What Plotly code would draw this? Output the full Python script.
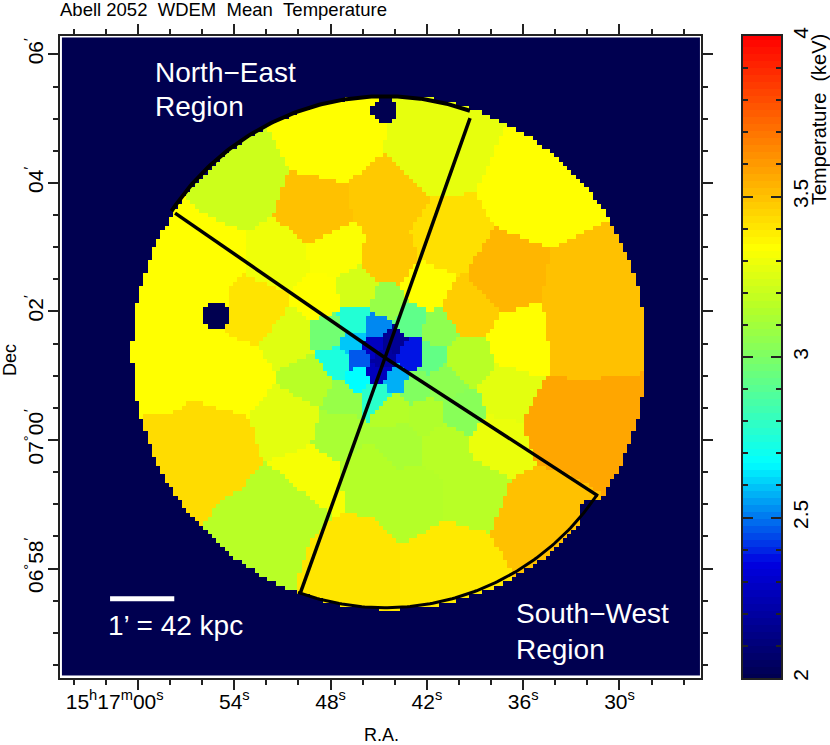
"""Abell 2052 WDEM mean temperature map with the two sector regions."""

import numpy as np
import plotly.graph_objects as go

# spatial bins: R.A. seconds past 15h16m, Dec arcmin from 07d00m, mean kT in keV
bin_ra = [47.73, 41.50, 53.83, 58.01, 58.32, 48.79, 44.61, 40.87, 51.15, 47.73,
          48.66, 52.40, 50.34, 46.36, 44.49, 42.12, 39.63, 37.32, 35.26, 32.15,
          36.20, 32.15, 37.13, 37.76, 39.63, 41.43, 41.81, 43.05, 40.87, 39.81,
          42.12, 42.74, 43.99, 43.68, 40.87, 39.31, 42.74, 35.26, 46.79, 40.56,
          52.09, 55.20, 50.40, 49.16, 45.55, 47.41, 47.10, 48.97, 48.04, 46.48,
          45.11, 46.60, 45.30, 44.11, 42.93, 44.80, 45.05, 46.29, 47.60, 46.17,
          43.93, 45.23,
          44.42, 53.96, 56.45, 55.51, 57.38, 50.53, 34.02, 32.77]
bin_dec = [4.67, 4.51, 3.89, 3.04, 1.25, 3.47, 3.66, 3.07, 2.80, 2.93,
           2.18, 2.02, 1.63, 2.30, 2.10, 2.33, 2.02, 2.52, 3.81, 2.26,
           1.51, 0.23, 0.70, 0.00, 1.21, 1.71, 1.28, 1.84, 0.90, 0.44,
           0.39, 0.81, 0.47, 0.00, -0.08, -0.78, -0.86, -1.17, -1.87, -1.87,
           -1.48, -0.08, 0.31, -0.58, -0.50, 0.12, 0.67, 0.93, 1.67, 1.84,
           1.74, 1.51, 1.45, 1.56, 1.32, 1.25, 1.03, 1.28, 1.21, 0.93,
           0.93, 0.73,
           2.77, 1.01, 2.18, 2.88, -0.39, -1.00, 0.31, 1.63]
bin_kev = [3.34, 3.28, 3.21, 3.34, 3.34, 3.50, 3.48, 3.42, 3.30, 3.33,
           3.34, 3.41, 3.26, 3.23, 3.07, 3.34, 3.47, 3.53, 3.34, 3.50,
           3.34, 3.57, 3.27, 3.29, 3.16, 3.05, 2.93, 2.92, 3.05, 3.03,
           3.14, 3.01, 3.15, 3.12, 3.16, 3.16, 3.15, 3.50, 3.405, 3.395,
           3.16, 3.43, 3.27, 3.32, 3.15, 3.12, 3.07, 3.16, 2.97, 2.76,
           2.52, 2.60, 2.28, 2.17, 2.38, 2.20, 2.27, 2.46, 2.74, 2.67,
           2.57, 2.78,
           3.48, 3.34, 3.34, 3.34, 3.43, 3.16, 3.57, 3.50]

# excluded point sources
hole_ra = [44.61, 55.14, 31.84]
hole_dec = [5.14, 1.93, -1.12]
hole_radius = [0.20, 0.23, 0.18]

# extent of the extraction disk
disk_ra, disk_dec, disk_radius = 44.34, 1.36, 4.0

# sector lines run from the centre out to these points
center_ra, center_dec = 44.61, 1.28
spoke_ra = [39.31, 57.69, 49.91, 31.34]
spoke_dec = [5.01, 3.53, -2.40, -0.87]

# region arcs, angles in degrees counter-clockwise from west
arc_ra, arc_dec, arc_radius = 44.61, 1.37, 3.98
arc_ne = (70.6, 146.6)
arc_sw = (250.1, 326.1)

scale_bar_ra = [61.74, 57.74]
scale_bar_dec = [-2.47, -2.47]

ra_ticks = [60, 54, 48, 42, 36, 30]
ra_labels = ["15<sup>h</sup>17<sup>m</sup>00<sup>s</sup>" + "\u00a0" * 8, "54<sup>s</sup>", "48<sup>s</sup>",
             "42<sup>s</sup>", "36<sup>s</sup>", "30<sup>s</sup>"]
dec_ticks = [6, 4, 2, 0, -2]
dec_labels = ["06<sup>′</sup>", "04<sup>′</sup>", "02<sup>′</sup>",
              "07<sup>°</sup>00<sup>′</sup>", "06<sup>°</sup>58<sup>′</sup>"]
kev_ticks = [2, 2.5, 3, 3.5, 4]
kev_labels = ["2", "2.5", "3", "3.5", "4"]

KEV_MIN, KEV_MAX = 2.0, 4.0
ARCMIN_PER_RA_SEC = 0.2498
PIXEL_RA = 4.0 / 60.0 / ARCMIN_PER_RA_SEC  # 4 arcsec map pixels
PIXEL_DEC = 4.0 / 60.0
BAR_STEPS = 92

FONT = "Liberation Sans"


def norm(kev):
    return (kev - KEV_MIN) / (KEV_MAX - KEV_MIN)


colorscale = [
    [norm(2.00), "rgb(0,0,80)"],
    [norm(2.36), "rgb(0,0,225)"],
    [norm(2.40), "rgb(0,40,230)"],
    [norm(2.67), "rgb(0,255,255)"],
    [norm(3.00), "rgb(125,255,100)"],
    [norm(3.15), "rgb(180,255,40)"],
    [norm(3.34), "rgb(255,255,0)"],
    [norm(4.00), "rgb(255,0,0)"],
]


def build_map():
    # nearest-bin lookup on the 4 arcsec pixel grid
    ra = 64.74 - PIXEL_RA * (np.arange(149) + 0.5)
    dec = 6.264 - PIXEL_DEC * (np.arange(149) + 0.5)
    ra_grid, dec_grid = np.meshgrid(ra, dec)

    xs = (np.array(bin_ra)[:, None, None] - ra_grid) * ARCMIN_PER_RA_SEC
    ys = np.array(bin_dec)[:, None, None] - dec_grid
    nearest = np.argmin(xs**2 + ys**2, axis=0)
    z = np.array(bin_kev)[nearest]

    def dist(r0, d0):
        return np.hypot((r0 - ra_grid) * ARCMIN_PER_RA_SEC, d0 - dec_grid)

    z[dist(disk_ra, disk_dec) > disk_radius] = KEV_MIN
    for r0, d0, rad in zip(hole_ra, hole_dec, hole_radius):
        z[dist(r0, d0) < rad] = KEV_MIN
    return ra, dec, z


def arc_trace(span, width):
    theta = np.radians(np.linspace(span[0], span[1], 120))
    return go.Scatter(
        x=arc_ra - arc_radius * np.cos(theta) / ARCMIN_PER_RA_SEC,
        y=arc_dec + arc_radius * np.sin(theta),
        mode="lines",
        line=dict(color="black", width=width),
        hoverinfo="skip",
    )


ra, dec, z = build_map()

fig = go.Figure()
fig.add_trace(go.Heatmap(x=ra, y=dec, z=z, coloraxis="coloraxis"))
for end_ra, end_dec in zip(spoke_ra, spoke_dec):
    fig.add_trace(
        go.Scatter(
            x=[center_ra, end_ra],
            y=[center_dec, end_dec],
            mode="lines",
            line=dict(color="black", width=3.5),
            hoverinfo="skip",
        )
    )
fig.add_trace(arc_trace(arc_ne, 4))
fig.add_trace(arc_trace(arc_sw, 3))
fig.add_trace(
    go.Scatter(
        x=scale_bar_ra,
        y=scale_bar_dec,
        mode="lines",
        line=dict(color="white", width=5),
        hoverinfo="skip",
    )
)

# colour bar drawn as its own small heatmap so the ticks can sit inside on both sides
bar_levels = np.linspace(KEV_MIN, KEV_MAX, BAR_STEPS)
fig.add_trace(
    go.Heatmap(
        x=[0],
        y=bar_levels,
        z=[[level] for level in bar_levels],
        coloraxis="coloraxis",
        xaxis="x2",
        yaxis="y2",
    )
)

AXIS_LINE = dict(showline=True, linecolor="#222222", linewidth=2, mirror="ticks", showgrid=False, zeroline=False)
W, H = 830, 745


def text(x, y, label, size, color="black", angle=0, xanchor="left"):
    fig.add_annotation(
        x=x / W,
        y=1 - y / H,
        xref="paper",
        yref="paper",
        text=label,
        showarrow=False,
        xanchor=xanchor,
        yanchor="middle",
        textangle=angle,
        align="left",
        font=dict(family=FONT, size=size, color=color),
    )


text(58, 9, "Abell\u00a02052\u00a0\u00a0WDEM\u00a0\u00a0Mean\u00a0\u00a0Temperature", 18.5)
text(381, 735, "R.A.", 18, xanchor="center")
text(10, 360, "Dec", 18, angle=-90, xanchor="center")
text(153, 72, "North−East", 28, "white")
text(153, 107, "Region", 28, "white")
text(514, 613, "South−West", 28, "white")
text(514, 649, "Region", 28, "white")
text(106, 625, "1’ = 42 kpc", 28, "white")
text(819, 120, "Temperature\u00a0\u00a0(keV)", 20, angle=-90, xanchor="center")

fig.update_layout(
    width=W,
    height=H,
    margin=dict(l=0, r=0, t=0, b=0, autoexpand=False),
    paper_bgcolor="white",
    plot_bgcolor="white",
    showlegend=False,
    font=dict(family=FONT, size=21, color="black"),
    coloraxis=dict(colorscale=colorscale, cmin=KEV_MIN, cmax=KEV_MAX, showscale=False),
    xaxis=dict(
        domain=[60 / W, 701 / W],
        range=[64.86, 24.92],
        tickmode="array",
        tickvals=ra_ticks,
        ticktext=ra_labels,
        ticks="outside",
        ticklen=10,
        tickwidth=2,
        tickcolor="#222222",
        ticklabelstandoff=-6,
        minor=dict(ticks="outside", ticklen=5, tickwidth=2, tickcolor="#222222", tick0=0, dtick=2),
        **AXIS_LINE,
    ),
    yaxis=dict(
        domain=[1 - 678 / H, 1 - 36 / H],
        range=[-3.704, 6.287],
        tickmode="array",
        tickvals=dec_ticks,
        ticktext=dec_labels,
        tickangle=-90,
        ticks="outside",
        ticklen=10,
        tickwidth=2,
        tickcolor="#222222",
        ticklabelstandoff=-3,
        minor=dict(ticks="outside", ticklen=5, tickwidth=2, tickcolor="#222222", tick0=0, dtick=0.5),
        **AXIS_LINE,
    ),
    xaxis2=dict(
        domain=[743 / W, 781 / W],
        range=[-0.5, 0.5],
        anchor="y2",
        showticklabels=False,
        ticks="",
        **AXIS_LINE,
    ),
    yaxis2=dict(
        domain=[1 - 678 / H, 1 - 36 / H],
        range=[KEV_MIN, KEV_MAX],
        anchor="x2",
        side="right",
        tickmode="array",
        tickvals=kev_ticks,
        ticktext=kev_labels,
        tickangle=-90,
        ticks="inside",
        ticklen=10,
        tickwidth=2,
        tickcolor="#222222",
        minor=dict(ticks="inside", ticklen=5, tickwidth=2, tickcolor="#222222", tick0=0, dtick=0.1),
        **AXIS_LINE,
    ),
)

fig.write_html("out.html", config=dict(displayModeBar=False), post_script="document.body.style.margin='0';")
